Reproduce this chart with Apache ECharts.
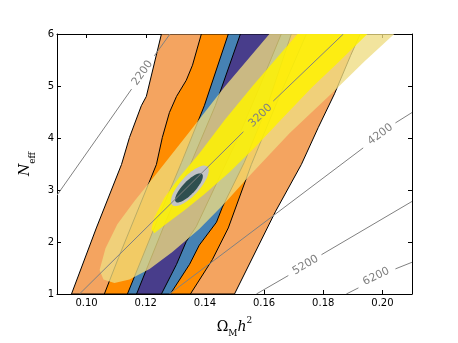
<!DOCTYPE html>
<html>
<head>
<meta charset="utf-8">
<script src="https://cdn.jsdelivr.net/npm/echarts@6/dist/echarts.min.js"></script>
<style>
  html, body { margin: 0; padding: 0; background: #fff; }
  #chart { width: 458px; height: 343px; }
</style>
</head>
<body>
<div id="chart"></div>
<script>
// points are [Omega_M h^2, N_eff]
const xTicks = [0.10, 0.12, 0.14, 0.16, 0.18, 0.20]
const yTicks = [1, 2, 3, 4, 5, 6]

// nested bands, edges from bottom to top
const lightOrangeLeft = [[0.0949, 1.0], [0.1033, 2.27], [0.1118, 3.49], [0.1145, 4.01], [0.1185, 4.62], [0.1202, 4.80], [0.1253, 6.0]]
const lightOrangeRight = [[0.1500, 1.0], [0.1638, 2.58], [0.1726, 3.49], [0.1783, 4.20], [0.1838, 4.85], [0.1892, 5.58], [0.1925, 6.0]]
const darkOrangeLeft = [[0.1060, 1.0], [0.1108, 1.70], [0.1236, 3.49], [0.1256, 4.01], [0.1280, 4.49], [0.1304, 4.80], [0.1337, 5.11], [0.1358, 5.40], [0.1388, 6.0]]
const darkOrangeRight = [[0.1351, 1.0], [0.1425, 1.66], [0.1479, 2.27], [0.1557, 3.49], [0.1645, 4.71], [0.1743, 6.0]]
const blueLeft = [[0.1138, 1.0], [0.1240, 2.43], [0.1321, 3.53], [0.1398, 4.62], [0.1479, 6.0]]
const blueRight = [[0.1283, 1.0], [0.1348, 1.57], [0.1381, 1.94], [0.1439, 2.38], [0.1459, 2.67], [0.1533, 3.53], [0.1611, 4.62], [0.1692, 6.0]]
const purpleLeft = [[0.1169, 1.0], [0.1270, 2.43], [0.1354, 3.53], [0.1435, 4.62], [0.1520, 6.0]]
const purpleRight = [[0.1253, 1.0], [0.1304, 1.57], [0.1337, 2.01], [0.1371, 2.30], [0.1442, 3.16], [0.1517, 4.07], [0.1591, 5.07], [0.1658, 6.0]]

// big translucent regions (outline, running off the top)
const khakiOutline = [[0.1655, 6.255], [0.1618, 6.0], [0.1466, 4.98], [0.1348, 4.12], [0.1240, 3.34], [0.1162, 2.79], [0.1104, 2.34], [0.1064, 1.88], [0.1044, 1.46], [0.1057, 1.28], [0.1094, 1.21], [0.1145, 1.28], [0.1213, 1.48], [0.1290, 1.81], [0.1381, 2.25], [0.1466, 2.74], [0.1550, 3.27], [0.1686, 4.09], [0.1838, 4.91], [0.1939, 5.47], [0.2040, 6.0], [0.2088, 6.255]]
const yellowOutline = [[0.1750, 6.255], [0.1713, 6.0], [0.1564, 5.02], [0.1466, 4.34], [0.1381, 3.70], [0.1314, 3.25], [0.1263, 2.85], [0.1229, 2.47], [0.1219, 2.25], [0.1229, 2.17], [0.1263, 2.32], [0.1331, 2.61], [0.1398, 2.92], [0.1483, 3.34], [0.1571, 3.83], [0.1662, 4.38], [0.1763, 4.98], [0.1854, 5.47], [0.1949, 6.0], [0.1990, 6.255]]

// small ellipses: centre, half widths, correlation
const grayEllipse = {cx: 0.1349, cy: 3.08, sx: 0.0064, sy: 0.39, rho: 0.76}
const greenEllipse = {cx: 0.1346, cy: 3.04, sx: 0.0047, sy: 0.28, rho: 0.8}

// contour lines, two pieces each with the label in the gap
const contourLevels = ['2200', '3200', '4200', '5200', '6200']
const contourPieces = [
  [[[0.09, 2.90], [0.1152, 4.94]], [[0.1229, 5.58], [0.1282, 6.0]]],
  [[[0.0976, 1.0], [0.1530, 4.12]], [[0.1631, 4.71], [0.1868, 6.0]]],
  [[[0.1280, 1.0], [0.1935, 3.81]], [[0.2044, 4.29], [0.2100, 4.49]]],
  [[[0.1574, 1.0], [0.1682, 1.355]], [[0.1794, 1.756], [0.2100, 2.78]]],
  [[[0.1878, 1.0], [0.1919, 1.118]], [[0.2044, 1.483], [0.2100, 1.61]]]
]
const contourLabelAt = [[0.1189, 5.25], [0.1588, 4.43], [0.1993, 4.07], [0.1740, 1.556], [0.1979, 1.337]]

function band(left, right) {
  return left.concat(right.slice().reverse())
}

function ellipse(e) {
  let pts = []
  for (let i = 0; i < 72; i++) {
    let t = i / 72 * Math.PI * 2
    pts.push([e.cx + e.sx * Math.cos(t), e.cy + e.sy * (e.rho * Math.cos(t) + Math.sqrt(1 - e.rho * e.rho) * Math.sin(t))])
  }
  return pts
}

function polySeries(pts, fill, stroke, z) {
  return {
    type: 'custom',
    coordinateSystem: 'cartesian2d',
    clip: true,
    silent: true,
    z: z,
    data: [[0.15, 3]],
    renderItem: (params, api) => ({
      type: 'polygon',
      shape: {points: pts.map(p => api.coord(p))},
      style: {fill: fill, stroke: stroke || null, lineWidth: stroke ? 1 : 0}
    })
  }
}

let chart = echarts.init(document.getElementById('chart'))

let axisFont = {fontFamily: 'DejaVu Sans', fontSize: 10, color: '#000'}
let frameLine = {show: true, lineStyle: {color: '#000', width: 1}}

chart.setOption({
  animation: false,
  grid: {left: 57, right: 46, top: 34, bottom: 35},
  xAxis: [{
    type: 'value', min: 0.09, max: 0.21, position: 'bottom',
    axisLine: frameLine,
    axisTick: {inside: true, length: 4, customValues: xTicks, lineStyle: {color: '#000'}},
    axisLabel: Object.assign({customValues: xTicks, margin: 4, formatter: v => v.toFixed(2)}, axisFont),
    splitLine: {show: false},
    name: '{o|Ω}{sub|M}{i|h}{sup|2}',
    nameLocation: 'middle',
    nameGap: 22,
    nameTextStyle: {
      rich: {
        o: {fontFamily: 'DejaVu Serif', fontSize: 14, lineHeight: 22, verticalAlign: 'middle', color: '#000'},
        sub: {fontFamily: 'DejaVu Serif', fontSize: 9, lineHeight: 9, verticalAlign: 'bottom', color: '#000'},
        i: {fontFamily: 'DejaVu Serif', fontStyle: 'italic', fontSize: 14, lineHeight: 22, verticalAlign: 'middle', color: '#000'},
        sup: {fontFamily: 'DejaVu Serif', fontSize: 9, lineHeight: 9, verticalAlign: 'top', color: '#000'}
      }
    }
  }, {
    type: 'value', min: 0.09, max: 0.21, position: 'top',
    axisLine: frameLine,
    axisTick: {inside: true, length: 4, customValues: xTicks, lineStyle: {color: '#000'}},
    axisLabel: {show: false},
    splitLine: {show: false}
  }],
  yAxis: [{
    type: 'value', min: 1, max: 6, interval: 1, position: 'left',
    axisLine: frameLine,
    axisTick: {inside: true, length: 4, lineStyle: {color: '#000'}},
    axisLabel: Object.assign({margin: 3}, axisFont),
    splitLine: {show: false},
    name: '{n|N}{sub|eff}',
    nameLocation: 'middle',
    nameRotate: 90,
    nameGap: 18,
    nameTextStyle: {
      rich: {
        n: {fontFamily: 'DejaVu Serif', fontStyle: 'italic', fontSize: 14, lineHeight: 22, verticalAlign: 'middle', color: '#000'},
        sub: {fontFamily: 'DejaVu Serif', fontSize: 9, lineHeight: 9, verticalAlign: 'bottom', color: '#000'}
      }
    }
  }, {
    type: 'value', min: 1, max: 6, interval: 1, position: 'right',
    axisLine: frameLine,
    axisTick: {inside: true, length: 4, lineStyle: {color: '#000'}},
    axisLabel: {show: false},
    splitLine: {show: false}
  }],
  series: [
    polySeries(band(lightOrangeLeft, lightOrangeRight), '#f4a460', '#000', 1),
    polySeries(band(darkOrangeLeft, darkOrangeRight), '#ff8c00', '#000', 2),
    polySeries(band(blueLeft, blueRight), '#4682b4', '#000', 3),
    polySeries(band(purpleLeft, purpleRight), '#483d8b', '#000', 4),
    polySeries(khakiOutline, 'rgba(238,221,130,0.78)', null, 5),
    polySeries(yellowOutline, 'rgba(255,242,0,0.85)', null, 6),
    polySeries(ellipse(grayEllipse), '#c4c4c4', null, 7),
    polySeries(ellipse(greenEllipse), '#2f4f4f', null, 8),
    {
      type: 'custom',
      coordinateSystem: 'cartesian2d',
      clip: true,
      silent: true,
      z: 9,
      data: contourLevels.map((lv, i) => [contourLabelAt[i][0], contourLabelAt[i][1], i]),
      renderItem: (params, api) => {
        let i = api.value(2)
        let pieces = contourPieces[i]
        let children = pieces.map(seg => ({
          type: 'polyline',
          shape: {points: seg.map(p => api.coord(p))},
          style: {stroke: '#808080', lineWidth: 1, fill: null}
        }))
        let a = api.coord(pieces[0][0])
        let b = api.coord(pieces[1][1])
        let c = api.coord(contourLabelAt[i])
        children.push({
          type: 'text',
          x: c[0], y: c[1],
          rotation: Math.atan2(a[1] - b[1], b[0] - a[0]),
          style: {
            text: contourLevels[i], fill: '#808080',
            fontFamily: 'DejaVu Sans', fontSize: 11,
            align: 'center', verticalAlign: 'middle'
          }
        })
        return {type: 'group', children: children}
      }
    }
  ]
})
</script>
</body>
</html>
